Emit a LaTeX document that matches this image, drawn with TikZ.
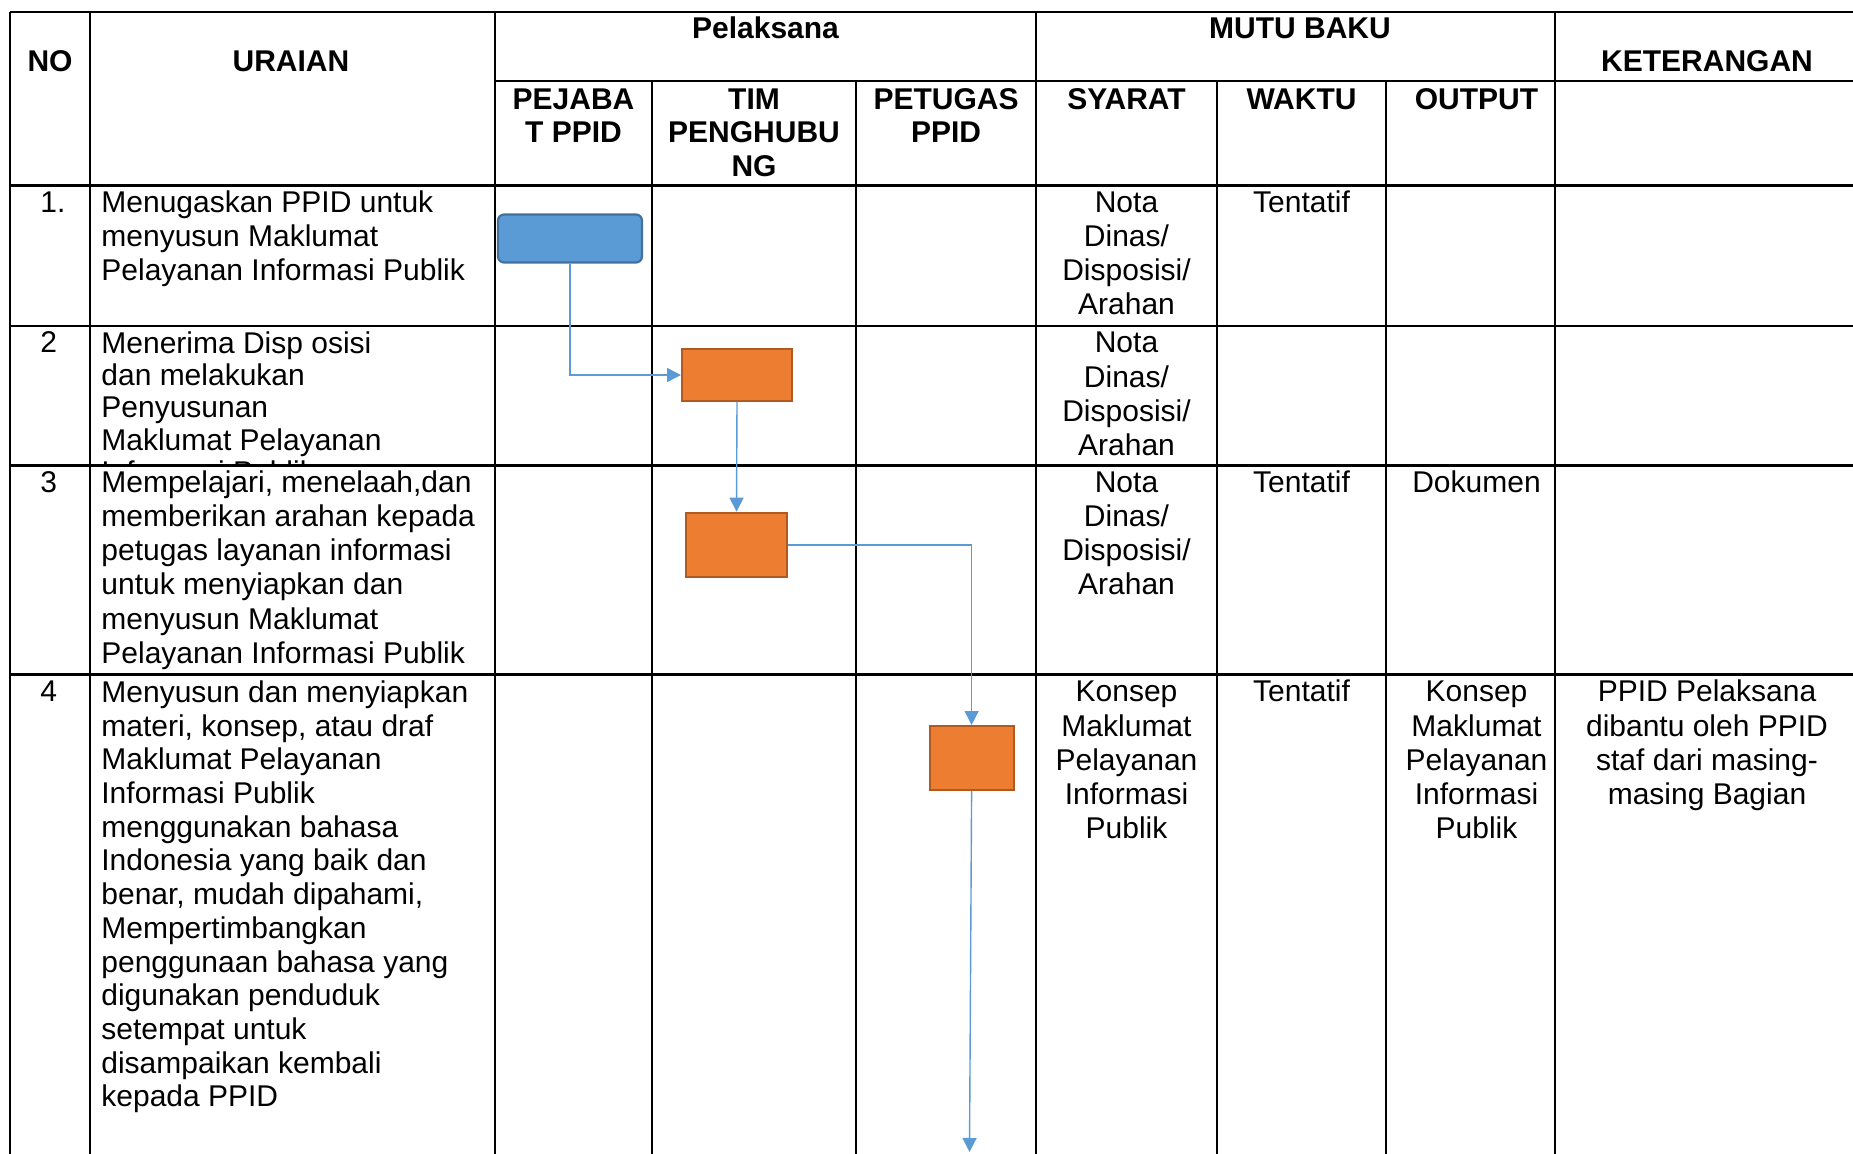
\documentclass[tikz,border=0pt]{standalone}
\usepackage{fontspec}
\setmainfont{Liberation Sans}
\usetikzlibrary{arrows.meta}
\definecolor{flowblue}{HTML}{5B9BD5}
\definecolor{boxblue}{HTML}{5B9BD5}
\definecolor{boxblueedge}{HTML}{41719C}
\definecolor{boxorange}{HTML}{ED7D31}
\definecolor{boxorangeedge}{HTML}{AE5A21}
\newcommand\tabfont{\fontsize{15}{17.1}\selectfont}
\newcommand\tabfontlong{\fontsize{15}{16.85}\selectfont}
\newcommand\tabfonttight{\fontsize{15}{16.1}\selectfont}
\newcommand\headfont{\fontsize{15}{16.75}\selectfont\bfseries}
\begin{document}
\begin{tikzpicture}[x=0.5pt,y=-0.5pt,
  hrule/.style={line width=1.3pt},
  vrule/.style={line width=0.9pt},
  txt/.style={font=\tabfont, inner sep=0pt},
  ctxt/.style={txt, anchor=north, align=center},
  ltxt/.style={txt, anchor=north west, align=left},
  head/.style={font=\headfont, inner sep=0pt, anchor=base},
  subhead/.style={font=\headfont, inner sep=0pt, anchor=north, align=center},
  actbox/.style={draw=boxorangeedge, fill=boxorange, line width=1pt, inner sep=0pt},
  startbox/.style={draw=boxblueedge, fill=boxblue, line width=1.1pt, rounded corners=3pt, inner sep=0pt},
  flow/.style={draw=flowblue, line width=0.7pt, -{Triangle[width=7pt,length=7pt]}}
]
\useasboundingbox (0,0) rectangle (1853,1154);
\clip (0,0) rectangle (1853,1154);

% ---- table grid ----
\draw[hrule] (10,12) -- (1870,12);
\draw[hrule] (495,81) -- (1870,81);
\draw[hrule] (10,185.5) -- (1870,185.5);
\draw[hrule] (10,326) -- (1870,326);
\draw[hrule] (10,465.6) -- (1870,465.6);
\draw[hrule] (10,674.8) -- (1870,674.8);
\foreach \xx in {10,90,495,1036,1555} \draw[vrule] (\xx,12) -- (\xx,1170);
\foreach \xx in {652,856,1217,1386} \draw[vrule] (\xx,81) -- (\xx,1170);

% ---- header ----
\node[head] (hno) at (50,72) {NO};
\node[head] (hur) at (291,72) {URAIAN};
\node[head] (hpel) at (765.5,39) {Pelaksana};
\node[head] (hmutu) at (1300,39) {MUTU BAKU};
\node[head] (hket) at (1707,72) {KETERANGAN};
\node[subhead] (hpej) at (573.5,85.5) {\strut PEJABA\\T PPID};
\node[subhead] (htim) at (754,85.5) {\strut TIM\\PENGHUBU\\NG};
\node[subhead] (hpet) at (946,85.5) {\strut PETUGAS\\PPID};
\node[subhead] (hsy) at (1126.5,85.5) {\strut SYARAT};
\node[subhead] (hwa) at (1301.5,85.5) {\strut WAKTU};
\node[subhead] (hout) at (1476.5,85.5) {\strut OUTPUT};

% ---- row 1 ----
\node[ltxt] (n1) at (40,188) {\strut 1.};
\node[ltxt] (u1) at (101,188) {\strut Menugaskan PPID untuk\\menyusun Maklumat\\Pelayanan Informasi Publik};
\node[ctxt] (s1) at (1126.5,188) {\strut Nota\\Dinas/\\Disposisi/\\Arahan};
\node[ctxt] (w1) at (1301.5,188) {\strut Tentatif};

% ---- row 2 ----
\node[ltxt] (n2) at (40,328.5) {\strut 2};
\begin{scope}
\clip (90,326) rectangle (495,465);
\node[ltxt, font=\tabfonttight] (u2) at (101,330.5) {\strut Menerima Disp osisi\\dan melakukan\\Penyusunan\\Maklumat Pelayanan\\Informasi Publik};
\end{scope}
\node[ctxt] (s2) at (1126.5,328.5) {\strut Nota\\Dinas/\\Disposisi/\\Arahan};

% ---- row 3 ----
\node[ltxt] (n3) at (40,468) {\strut 3};
\node[ltxt] (u3) at (101,468) {\strut Mempelajari, menelaah,dan\\memberikan arahan kepada\\petugas layanan informasi\\untuk menyiapkan dan\\menyusun Maklumat\\Pelayanan Informasi Publik};
\node[ctxt] (s3) at (1126.5,468) {\strut Nota\\Dinas/\\Disposisi/\\Arahan};
\node[ctxt] (w3) at (1301.5,468) {\strut Tentatif};
\node[ctxt] (o3) at (1476.5,468) {\strut Dokumen};

% ---- row 4 ----
\node[ltxt] (n4) at (40,677.5) {\strut 4};
\node[ltxt, font=\tabfontlong] (u4) at (101,678.5) {\strut Menyusun dan menyiapkan\\materi, konsep, atau draf\\Maklumat Pelayanan\\Informasi Publik\\menggunakan bahasa\\Indonesia yang baik dan\\benar, mudah dipahami,\\Mempertimbangkan\\penggunaan bahasa yang\\digunakan penduduk\\setempat untuk\\disampaikan kembali\\kepada PPID};
\node[ctxt] (s4) at (1126.5,677.5) {\strut Konsep\\Maklumat\\Pelayanan\\Informasi\\Publik};
\node[ctxt] (w4) at (1301.5,677.5) {\strut Tentatif};
\node[ctxt] (o4) at (1476.5,677.5) {\strut Konsep\\Maklumat\\Pelayanan\\Informasi\\Publik};
\node[ctxt] (k4) at (1707,677.5) {\strut PPID Pelaksana\\dibantu oleh PPID\\staf dari masing-\\masing Bagian};

% ---- flow shapes ----
\node[startbox, minimum width=72pt, minimum height=24pt] (a1) at (570,238.5) {};
\node[actbox, minimum width=55pt, minimum height=26pt] (b2) at (737,375) {};
\node[actbox, minimum width=50.5pt, minimum height=32.3pt] (b3) at (736.5,545) {};
\node[actbox, minimum width=42pt, minimum height=32pt] (b4) at (971.6,758) {};
\coordinate (flowend) at (969.5,1152);

\draw[flow] (a1.south) |- (b2.west);
\draw[flow] (b2.south) -- (b3.north);
\draw[flow] (b3.east) -| (b4.north);
\draw[flow] (b4.south) -- (flowend);
\end{tikzpicture}
\end{document}
